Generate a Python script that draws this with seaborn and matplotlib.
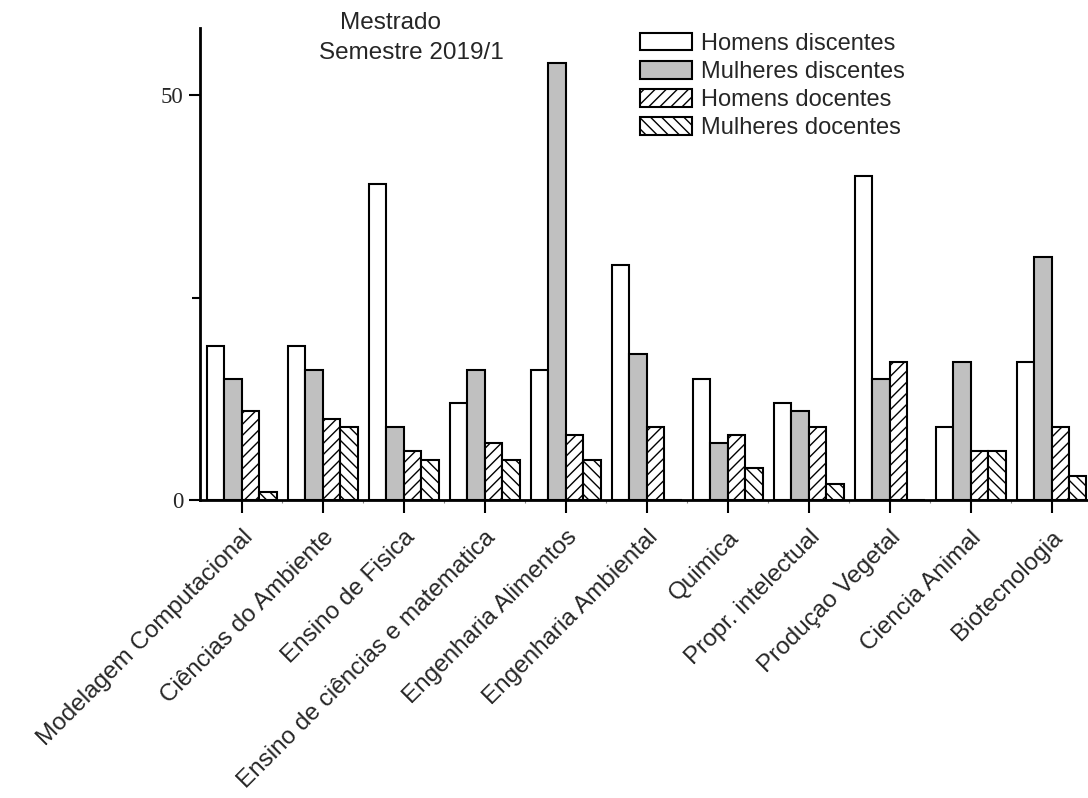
import matplotlib
matplotlib.use("Agg")
import matplotlib.pyplot as plt
import numpy as np
import pandas as pd
import seaborn as sns

# Master's programmes and headcounts, semester 2019/1
programas = [
    "Modelagem Computacional", "Ciências do Ambiente", "Ensino de Fisica",
    "Ensino de ciências e matematica", "Engenharia Alimentos",
    "Engenharia Ambiental", "Quimica", "Propr. intelectual",
    "Produçao Vegetal", "Ciencia Animal", "Biotecnologia",
]
homens_discentes = [19, 19, 39, 12, 16, 29, 15, 12, 40, 9, 17]
mulheres_discentes = [15, 16, 9, 16, 54, 18, 7, 11, 15, 17, 30]
homens_docentes = [11, 10, 6, 7, 8, 9, 8, 9, 17, 6, 9]
mulheres_docentes = [1, 9, 5, 5, 5, 0, 4, 2, 0, 6, 3]

series_labels = ["Homens discentes", "Mulheres discentes",
                 "Homens docentes", "Mulheres docentes"]
series_values = [homens_discentes, mulheres_discentes,
                 homens_docentes, mulheres_docentes]

df = pd.DataFrame({
    "programa": np.repeat([programas], len(series_labels), axis=0).ravel(),
    "grupo": np.repeat(series_labels, len(programas)),
    "valor": np.concatenate(series_values),
})

sns.set_theme(style="ticks")
plt.rcParams["font.family"] = ["Liberation Sans", "DejaVu Sans"]
plt.rcParams["hatch.linewidth"] = 1.0
plt.rcParams["hatch.color"] = "black"

fig = plt.figure(figsize=(10.88, 7.98), dpi=100)
ax = fig.add_axes([200 / 1088, 298 / 798, 892 / 1088, 472 / 798])

fills = ["white", "#c0c0c0", "white", "white"]
hatches = [None, None, "///", "\\\\\\"]

sns.barplot(data=df, x="programa", y="valor", hue="grupo",
            order=programas, hue_order=series_labels,
            palette=fills, saturation=1, width=0.864, gap=0,
            edgecolor="black", linewidth=1.5, ax=ax, legend=False)

for cont, h in zip(ax.containers, hatches):
    for bar in cont:
        bar.set_edgecolor("black")
        if h:
            bar.set_hatch(h)

ax.set_xlim(-0.515, 10.5)
ax.set_ylim(0, 58.3)
ax.set_xlabel("")
ax.set_ylabel("")

for side in ("top", "right"):
    ax.spines[side].set_visible(False)
for side in ("left", "bottom"):
    ax.spines[side].set_linewidth(2)
    ax.spines[side].set_color("black")

ax.set_yticks([0, 50])
ax.set_yticks([25], minor=True)
ax.set_yticklabels(["0", "50"], fontfamily="Liberation Serif", fontsize=16.5)
ax.tick_params(axis="y", which="major", direction="out", length=8, width=1.5,
               color="black", pad=4)
ax.tick_params(axis="y", which="minor", direction="out", length=6, width=1.5,
               color="black")

ax.set_xticks(range(len(programas)))
ax.set_xticks(np.arange(len(programas)) + 0.5, minor=True)
ax.set_xticklabels(programas, rotation=45, ha="right",
                   rotation_mode="anchor", fontsize=17.5)
ax.tick_params(axis="x", which="major", direction="out", length=9, width=1.5,
               color="black", pad=10)
ax.tick_params(axis="x", which="minor", direction="out", length=2, width=0.8,
               color="#888888")

ax.legend(ax.containers, series_labels, loc="upper left",
          bbox_to_anchor=(640 / 1088, 1 - 33 / 798),
          bbox_transform=fig.transFigure, frameon=False, fontsize=17,
          handlelength=2.2, handleheight=0.76, handletextpad=0.4,
          labelspacing=0.26, borderpad=0, borderaxespad=0)

fig.text(340 / 1088, 1 - 23 / 798, "Mestrado", ha="left", va="center",
         fontsize=17.5)
fig.text(319 / 1088, 1 - 53 / 798, "Semestre 2019/1", ha="left",
         va="center", fontsize=17.5)

fig.savefig("out.png", dpi=100)
